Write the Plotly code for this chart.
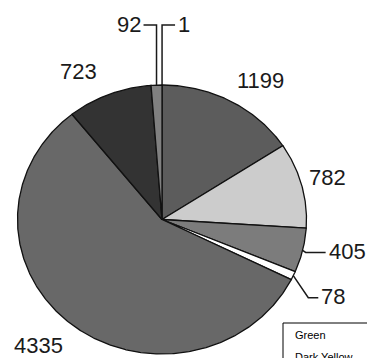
import numpy as np
import plotly.graph_objects as go

# Slice values, clockwise from 12 o'clock
values = [1, 1199, 782, 405, 78, 4335, 723, 92]
value_labels = [str(v) for v in values]
slice_colors = ["#ffffff", "#5c5c5c", "#cccccc", "#7c7c7c", "#ffffff", "#686868", "#333333", "#808080"]
legend_labels = ["Green", "Dark Yellow"]

# Canvas and ellipse geometry (pixels)
W, H = 367, 358
CX, CY = 162.0, 219.5
RX, RY = 144.5, 134.5

# Label placement: plain labels are shifted from the rim point at the slice middle,
# leader labels get an elbow line (offsets in px relative to the rim point)
plain_shift = {1: (30, -21), 2: (26, -8), 5: (-33, 21), 6: (-31, -23)}
leader_paths = {
    7: [(0, -60), (-13, -60)],
    0: [(0, -60), (13, -60)],
    3: [(3, 2), (23, 2)],
    4: [(15, 22), (25, 22)],
}

def px_to_unit(dx, dy):
    return dx / RX, -dy / RY

total = float(sum(values))
bounds = np.concatenate([[0.0], np.cumsum(values)]) / total * 2 * np.pi

fig = go.Figure()

for i, v in enumerate(values):
    t0, t1 = bounds[i], bounds[i + 1]
    n = max(2, int(np.degrees(t1 - t0) * 2))
    t = np.linspace(t0, t1, n)
    xs = np.concatenate([[0.0], np.sin(t), [0.0]])
    ys = np.concatenate([[0.0], np.cos(t), [0.0]])
    fig.add_trace(go.Scatter(
        x=xs, y=ys, mode="lines", fill="toself",
        fillcolor=slice_colors[i],
        line=dict(color="#111111", width=1.3),
        hoverinfo="skip", showlegend=False,
    ))

label_font = dict(family="Liberation Sans, Arial, sans-serif", size=22, color="#1a1a1a")

for i, v in enumerate(values):
    tm = 0.5 * (bounds[i] + bounds[i + 1])
    ex, ey = np.sin(tm), np.cos(tm)
    if i in leader_paths:
        xs, ys = [ex], [ey]
        for dx, dy in leader_paths[i]:
            ux, uy = px_to_unit(dx, dy)
            xs.append(ex + ux)
            ys.append(ey + uy)
        fig.add_trace(go.Scatter(
            x=xs, y=ys, mode="lines",
            line=dict(color="#1a1a1a", width=1.5),
            hoverinfo="skip", showlegend=False,
        ))
        side_right = xs[-1] > xs[-2]
        fig.add_annotation(
            x=xs[-1], y=ys[-1], xref="x", yref="y",
            text=value_labels[i], showarrow=False,
            xanchor="left" if side_right else "right", yanchor="middle",
            xshift=1 if side_right else -1, yshift=1,
            font=label_font,
        )
    else:
        sx, sy = plain_shift[i]
        fig.add_annotation(
            x=ex, y=ey, xref="x", yref="y",
            text=value_labels[i], showarrow=False,
            xanchor="center", yanchor="middle",
            xshift=sx, yshift=-sy,
            font=label_font,
        )

# Legend box, partly running off the canvas
box_left, box_top = 283, 323
fig.add_shape(
    type="rect", xref="paper", yref="paper",
    x0=box_left / W, x1=1.3, y0=1 - box_top / H, y1=-0.3,
    line=dict(color="#000000", width=1), fillcolor="#ffffff", layer="above",
)
for k, name in enumerate(legend_labels):
    fig.add_annotation(
        x=(box_left + 10) / W, y=1 - (box_top + 11.5 + 22 * k) / H,
        xref="paper", yref="paper", text=name, showarrow=False,
        xanchor="left", yanchor="middle",
        font=dict(family="Liberation Sans, Arial, sans-serif", size=11, color="#000000"),
    )

fig.update_layout(
    width=W, height=H,
    margin=dict(l=0, r=0, t=0, b=0),
    paper_bgcolor="#ffffff", plot_bgcolor="#ffffff",
    xaxis=dict(range=[(0 - CX) / RX, (W - CX) / RX], visible=False, fixedrange=True),
    yaxis=dict(range=[(CY - H) / RY, CY / RY], visible=False, fixedrange=True),
    showlegend=False,
)

fig.write_html("out.html")
